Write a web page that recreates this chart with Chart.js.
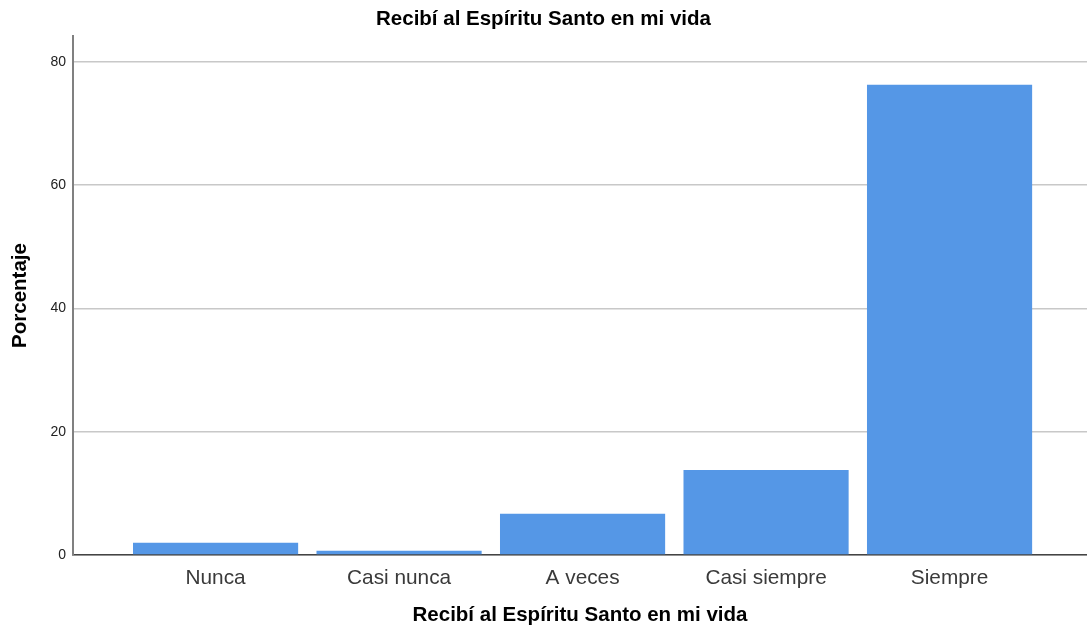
<!DOCTYPE html>
<html>
<head>
<meta charset="utf-8">
<script src="https://cdn.jsdelivr.net/npm/chart.js@4"></script>
<style>
  html, body { margin: 0; padding: 0; background: #fff; }
  #wrap { width: 1087px; height: 632px; }
</style>
</head>
<body>
<div id="wrap"><canvas id="bar"></canvas></div>
<script>
// categories and percentages
let categories = ["Nunca", "Casi nunca", "A veces", "Casi siempre", "Siempre"];
let percents = [2.0, 0.7, 6.7, 13.8, 76.3];
let yTicks = [0, 20, 40, 60, 80];
let chartTitle = "Recibí al Espíritu Santo en mi vida";

// bars sit on a linear x scale so the empty space either side of the bars can be matched
let points = [];
for (let i = 0; i < categories.length; i++) {
  points.push({x: i, y: percents[i]});
}

new Chart(document.getElementById("bar"), {
  type: 'bar',
  data: {
    datasets: [{
      data: points,
      backgroundColor: "#5597e6",
      borderWidth: 0,
      categoryPercentage: 1,
      barPercentage: 0.9
    }]
  },
  options: {
    responsive: true,
    maintainAspectRatio: false,
    animation: false,
    layout: { padding: 0 },
    plugins: {
      legend: { display: false },
      tooltip: { enabled: false },
      title: {
        display: true,
        text: chartTitle,
        color: "#000",
        font: { family: "Liberation Sans", size: 20.5, weight: "bold" },
        padding: { top: 7, bottom: 4.4 }
      }
    },
    scales: {
      x: {
        type: 'linear',
        offset: false,
        min: -0.777,
        max: 4.749,
        afterBuildTicks: function(scale) {
          scale.ticks = categories.map(function(c, i) { return {value: i}; });
        },
        afterFit: function(scale) { scale.height = 77; },
        grid: { display: false, drawTicks: false, offset: false },
        border: { display: true, color: "#444", width: 1.5 },
        ticks: {
          padding: 11,
          color: "#3a3a3a",
          font: { family: "Liberation Sans", size: 20.8 },
          maxRotation: 0,
          callback: function(v) { return categories[v]; }
        },
        title: {
          display: true,
          text: chartTitle,
          color: "#000",
          font: { family: "Liberation Sans", size: 20.5, weight: "bold" },
          padding: { top: 0, bottom: 4 }
        }
      },
      y: {
        min: 0,
        max: 84.2,
        afterBuildTicks: function(scale) {
          scale.ticks = yTicks.map(function(v) { return {value: v}; });
        },
        afterFit: function(scale) { scale.width = 73; },
        grid: { color: "#c8c8c8", lineWidth: 1.5, drawTicks: false },
        border: { display: true, color: "#808080", width: 2 },
        ticks: {
          padding: 7,
          color: "#222",
          font: { family: "Liberation Sans", size: 14 }
        },
        title: {
          display: true,
          text: "Porcentaje",
          color: "#000",
          font: { family: "Liberation Sans", size: 20.5, weight: "bold" },
          padding: { top: 8, bottom: 0 }
        }
      }
    }
  }
});
</script>
</body>
</html>
